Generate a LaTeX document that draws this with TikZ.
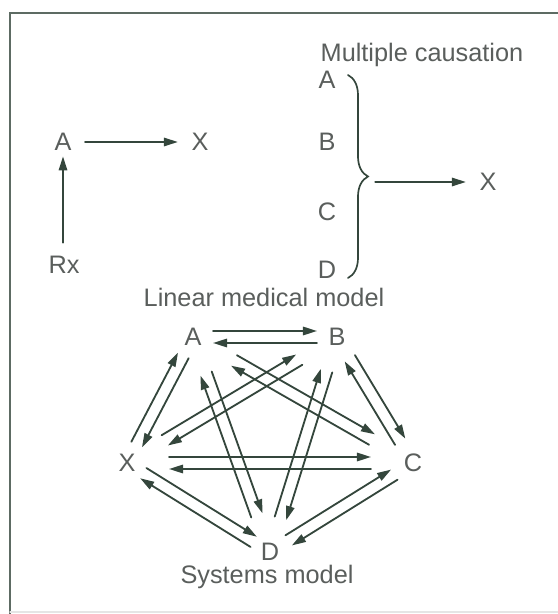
\documentclass[tikz,border=0pt]{standalone}
\usepackage{fontspec}
\setmainfont{Liberation Sans}
\usepackage{tikz}
\usetikzlibrary{arrows.meta,calc,decorations.pathreplacing}
\definecolor{ink}{HTML}{34463C}
\definecolor{txt}{HTML}{5A5E5C}

\begin{document}
\begin{tikzpicture}[>={Triangle[length=10pt,width=6pt]},line cap=round,
  lbl/.style={text=txt,font=\fontsize{18}{20}\selectfont,inner sep=1pt},
  arr/.style={->,ink,line width=1.3pt}]
\useasboundingbox (0,0) rectangle (13.95,15.35);
% frame
\draw[ink!80,line width=2pt] (0.25,0) -- (0.25,15.025) -- (13.95,15.025);
\draw[gray!20,line width=0.8pt] (0.25,0.05) -- (13.95,0.05);

% linear model
\node[lbl] (la) at (1.575,11.8) {A};
\node[lbl] (lx) at (5.0,11.8) {X};
\node[lbl] (rx) at (1.6,8.725) {Rx};
\draw[arr,shorten <=0.3cm,shorten >=0.3cm] (la) -- (lx);
\draw[arr,shorten <=0.3cm,shorten >=0.1cm] (rx.north -| la) -- (la);

% multiple causation
\node[lbl,anchor=west] (mt) at (7.975,13.975) {Multiple causation};
\node[lbl] (ma) at (8.175,13.35) {A};
\node[lbl] (mb) at (8.175,11.8) {B};
\node[lbl] (mc) at (8.175,10.05) {C};
\node[lbl] (md) at (8.175,8.6) {D};
\node[lbl] (mx) at (12.2,10.8) {X};
\draw[ink,line width=1.2pt,decorate,decoration={brace,amplitude=0.5cm}]
  (8.7,13.475) -- (8.7,8.4);
\coordinate (tip) at (9.2,10.8);
\draw[arr,shorten <=0.18cm,shorten >=0.3cm] (tip) -- (mx);
\node[lbl] (lt) at (6.6,7.925) {Linear medical model};

% systems model
\node[lbl] (sa) at (4.825,6.925) {A};
\node[lbl] (sb) at (8.425,6.925) {B};
\node[lbl] (sx) at (3.175,3.775) {X};
\node[lbl] (sc) at (10.325,3.775) {C};
\node[lbl] (sd) at (6.75,1.55) {D};
\node[lbl] (st) at (6.675,0.925) {Systems model};
\foreach \p/\q/\s in {sa/sb/0.5,sa/sx/0.52,sa/sd/0.97,sa/sc/1.18,sb/sx/1.1,
    sb/sd/0.88,sb/sc/0.62,sx/sc/1.05,sx/sd/0.48,sc/sd/0.55}{
  \draw[arr,shorten <=\s cm,shorten >=\s cm] ($(\p)!0.15cm!90:(\q)$) -- ($(\q)!0.15cm!-90:(\p)$);
  \draw[arr,shorten <=\s cm,shorten >=\s cm] ($(\q)!0.15cm!90:(\p)$) -- ($(\p)!0.15cm!-90:(\q)$);
}
\end{tikzpicture}
\end{document}
